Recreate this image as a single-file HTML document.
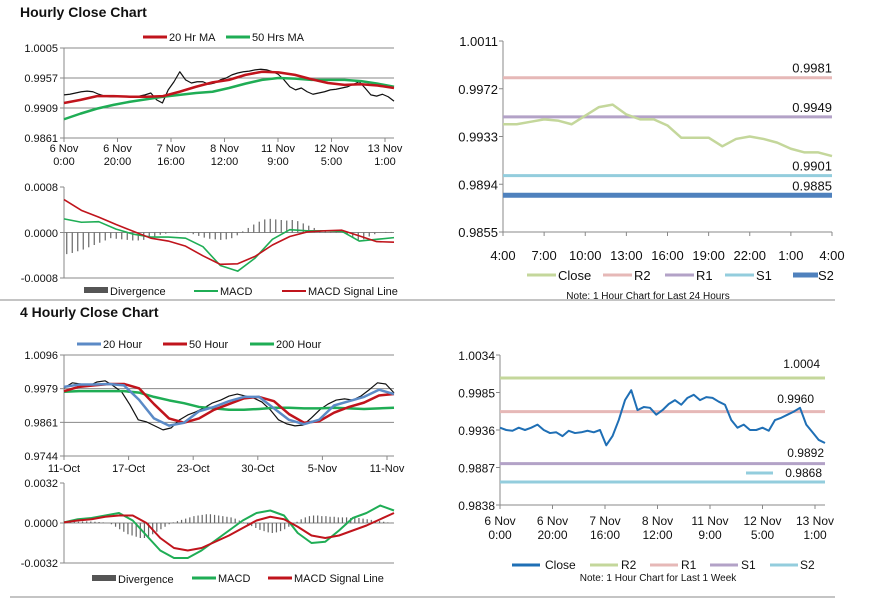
<!DOCTYPE html>
<html><head><meta charset="utf-8">
<style>
body{margin:0;background:#fff;font-family:"Liberation Sans",Arial,sans-serif;}
svg text{font-family:"Liberation Sans",Arial,sans-serif;font-size:11px;fill:#111;}
</style></head>
<body>
<svg id="s" width="873" height="601" viewBox="0 0 873 601" xmlns="http://www.w3.org/2000/svg">
<text x="20" y="17" style="font-size:14px;font-weight:bold">Hourly Close Chart</text>
<text x="20" y="317" style="font-size:14px;font-weight:bold">4 Hourly Close Chart</text>
<line x1="0" y1="300" x2="835" y2="300" stroke="#888"/>
<line x1="10" y1="597" x2="835" y2="597" stroke="#888"/>
</svg>
<script>
// ---- data ----
const hClose=[0.9930,0.9931,0.9933,0.9935,0.9936,0.9935,0.9931,0.9928,0.9927,0.9927,0.9928,0.9927,0.9928,0.9928,0.9930,0.9933,0.9922,0.9917,0.9938,0.9951,0.9967,0.9954,0.9949,0.9951,0.9951,0.9947,0.9949,0.9954,0.9957,0.9962,0.9965,0.9967,0.9968,0.9970,0.9971,0.9970,0.9967,0.9963,0.9954,0.9943,0.9938,0.9941,0.9935,0.9931,0.9933,0.9935,0.9938,0.9939,0.9941,0.9943,0.9947,0.9951,0.9941,0.9930,0.9928,0.9931,0.9927,0.9920];
const hMA20=[0.9917,0.9922,0.9928,0.9928,0.9927,0.9927,0.9928,0.9935,0.9943,0.9950,0.9954,0.9962,0.9967,0.9966,0.9962,0.9955,0.9949,0.9946,0.9947,0.9945,0.9941];
const hMA50=[0.9891,0.9900,0.9908,0.9914,0.9919,0.9923,0.9927,0.9930,0.9933,0.9935,0.9941,0.9948,0.9954,0.9957,0.9956,0.9954,0.9954,0.9954,0.9952,0.9948,0.9943];
const hMacd=[2.4,1.8,1.9,0.6,-0.3,-0.8,-0.8,-1.0,-2.5,-5.8,-6.8,-4.5,-1.2,0.5,0.3,0.3,0.2,-1.5,-1.2,-0.9];
const hSignal=[5.8,3.9,2.7,1.4,0.2,-1.0,-1.5,-2.4,-4.1,-5.6,-5.5,-4.2,-2.2,-0.7,0.1,0.3,0.4,-0.6,-1.6,-1.7];
const hDiv=[-3.8,-3.6,-3.3,-3.0,-2.6,-2.2,-1.8,-1.4,-1.0,-1.1,-1.2,-1.3,-1.4,-1.4,-1.3,-1.0,-0.7,-0.4,-0.2,0.0,0.1,0.0,-0.1,-0.3,-0.6,-0.9,-1.1,-1.2,-1.3,-1.2,-1.0,-0.5,0.2,0.8,1.4,1.9,2.3,2.4,2.3,2.2,2.1,2.2,2.0,1.6,1.2,0.8,0.4,0.2,0.1,0.1,0.0,-0.4,-0.9,-1.3,-1.2,-0.7,-0.3,0.0,0.1,0.1];
const hXLabels=[["6 Nov","0:00"],["6 Nov","20:00"],["7 Nov","16:00"],["8 Nov","12:00"],["11 Nov","9:00"],["12 Nov","5:00"],["13 Nov","1:00"]];
const hYTicks=["1.0005","0.9957","0.9909","0.9861"];
const dClose=[0.9943,0.9943,0.9945,0.9947,0.9946,0.9943,0.9950,0.9957,0.9959,0.9951,0.9947,0.9947,0.9942,0.9932,0.9932,0.9932,0.9925,0.9931,0.9933,0.9931,0.9928,0.9923,0.9920,0.9920,0.9917];
const dXLabels=["4:00","7:00","10:00","13:00","16:00","19:00","22:00","1:00","4:00"];
const dYTicks=["1.0011","0.9972","0.9933","0.9894","0.9855"];
const dLevels=[0.9981,0.9949,0.9901,0.9885];
const wClose=[0.9981,0.9999,0.9995,0.9988,1.0002,1.0006,0.9988,0.9967,0.9922,0.9870,0.9863,0.9849,0.9835,0.9842,0.9870,0.9887,0.9898,0.9912,0.9929,0.9939,0.9953,0.9960,0.9953,0.9946,0.9932,0.9905,0.9870,0.9856,0.9849,0.9852,0.9877,0.9905,0.9925,0.9939,0.9943,0.9939,0.9953,0.9975,0.9999,0.9995,0.9964];
const w20=[0.9985,0.9993,0.9993,0.9995,0.9990,0.9940,0.9875,0.9850,0.9860,0.9900,0.9915,0.9935,0.9950,0.9950,0.9910,0.9870,0.9855,0.9870,0.9920,0.9935,0.9950,0.9975,0.9960];
const w50=[0.9970,0.9985,0.9990,0.9995,0.9995,0.9980,0.9925,0.9875,0.9860,0.9875,0.9905,0.9925,0.9945,0.9950,0.9935,0.9890,0.9860,0.9865,0.9895,0.9915,0.9930,0.9955,0.9960];
const w200=[0.9968,0.9970,0.9970,0.9970,0.9970,0.9965,0.9950,0.9938,0.9928,0.9915,0.9910,0.9905,0.9905,0.9908,0.9912,0.9912,0.9910,0.9910,0.9912,0.9910,0.9908,0.9910,0.9912];
const wMacd=[0.5,3,4,6,8,2,-10,-22,-28,-28,-22,-14,-6,2,8,10,6,-8,-16,-15,-6,4,8,14,10];
const wSignal=[0.5,2,3,5,6,6,0,-12,-20,-22,-20,-15,-10,-4,2,5,3,-3,-10,-12,-10,-6,-2,3,8];
const wDiv=[0,0.5,1,1,1.2,1.3,1.2,1,0.8,0.5,0,-1,-3,-5,-7,-9,-10,-11,-12,-12,-11,-9,-7,-5,-3,-1,0.5,1.5,2.5,3.5,4.5,5.5,6,6.5,7,7,6.5,6,5.5,5,4.5,3.5,2,0.5,-1,-2.5,-4,-5.5,-6.5,-7.5,-8,-7.5,-6.5,-5,-3,-1,1,3,4.5,5.5,6,6,5.5,5.5,5,5,4.5,4.5,4.5,4,4,4,3.5,3,2.5,2,1.5,1,0.5,0.2];
const wXLabels=["11-Oct","17-Oct","23-Oct","30-Oct","5-Nov","11-Nov"];
const wYTicks=["1.0096","0.9979","0.9861","0.9744"];
const kClose=[0.9939,0.9936,0.9935,0.9939,0.9936,0.9939,0.9943,0.9936,0.9932,0.9933,0.9928,0.9935,0.9932,0.9933,0.9935,0.9933,0.9936,0.9916,0.9928,0.9949,0.9975,0.9988,0.9962,0.9966,0.9965,0.9956,0.9962,0.9970,0.9975,0.9969,0.9978,0.9982,0.9975,0.9979,0.9978,0.9973,0.9969,0.9949,0.9939,0.9943,0.9936,0.9936,0.9939,0.9935,0.9949,0.9952,0.9956,0.9960,0.9965,0.9943,0.9933,0.9923,0.9919];
const kXLabels=[["6 Nov","0:00"],["6 Nov","20:00"],["7 Nov","16:00"],["8 Nov","12:00"],["11 Nov","9:00"],["12 Nov","5:00"],["13 Nov","1:00"]];
const kYTicks=["1.0034","0.9985","0.9936","0.9887","0.9838"];
const kLevels=[1.0004,0.9960,0.9892,0.9868];

// ---- helpers ----
const S=document.getElementById('s');const NS='http://www.w3.org/2000/svg';
function mk(tag,attrs){const e=document.createElementNS(NS,tag);for(const k in attrs)e.setAttribute(k,attrs[k]);S.appendChild(e);return e;}
function scale(d0,d1,r0,r1){return v=>r0+(v-d0)/(d1-d0)*(r1-r0);}
function poly(vals,xs,ys,color,w,name){
  const pts=vals.map((v,i)=>xs(i/(vals.length-1))+','+ys(v)).join(' ');
  const e=mk('polyline',{points:pts,fill:'none',stroke:color,'stroke-width':w,'stroke-linejoin':'round'});
  
  
}
function txt(x,y,s,anchor,name,size){
  const e=mk('text',{x:x,y:y,'text-anchor':anchor||'start'});e.textContent=s;
  if(size)e.style.fontSize=size+'px';
  
  
  return e;
}
function ln(x1,y1,x2,y2,c,w,name){
  const e=mk('line',{x1:x1,y1:y1,x2:x2,y2:y2,stroke:c,'stroke-width':w});
  
  
}
function legend(x,y,c,w,label,name){
  ln(x,y,x+24,y,c,w,name+'-swatch');
  txt(x+26,y+4,label,'start',name);
}
function yaxis(x0,x1,ytop,ybot,labels,grid,name){
  const n=labels.length;
  labels.forEach((l,i)=>{const y=ytop+(ybot-ytop)*i/(n-1);
    if(grid&&i<n-1)ln(x0,y,x1,y,'#888',1,name+'-gridline');
    ln(x0-4,y,x0,y,'#888',1,name+'-tick');
    txt(x0-6,y+4,l,'end',name+'-label');});
  ln(x0,ytop,x0,ybot,'#888',1,name+'-axis');
  ln(x0,ybot,x1,ybot,'#888',1,name+'-xaxis');
}
function bars(vals,xs,ys,name){
  vals.forEach((v,i)=>{const x=xs((i+0.5)/vals.length);
    const e=mk('line',{x1:x,y1:ys(0),x2:x,y2:ys(v),stroke:'#666','stroke-width':1.2});
    
    });
}

// ---- Hourly close chart (top-left) ----
{const X0=64,X1=394,xs=t=>X0+t*(X1-X0),ys=scale(0.9861,1.0005,138,48);
yaxis(X0,X1,48,138,hYTicks,true,'hourly-price-y');
hXLabels.forEach((l,i)=>{const x=X0+i*(385-X0)/6;ln(x,138,x,142,'#888',1,'hourly-x-tick');txt(x,152,l[0],'middle','hourly-x-label');txt(x,165,l[1],'middle','hourly-x-label');});
poly(hClose,xs,ys,'#111',1.2,'hourly-close-line');
poly(hMA50,xs,ys,'#1fad55',2.5,'hourly-ma50-line');
poly(hMA20,xs,ys,'#c0141c',2.5,'hourly-ma20-line');
legend(143,37,'#c0141c',3,'20 Hr MA','legend-20hr-ma');
legend(226,37,'#1fad55',3,'50 Hrs MA','legend-50hr-ma');
const ym=scale(-8,8,278,187);
yaxis(X0,X1,187,278,['0.0008','','-0.0008'],false,'hourly-macd-y');
ln(X0,ym(0),X1,ym(0),'#888',1,'hourly-macd-zero');
txt(58,237,'0.0000','end','hourly-macd-zero-label');
bars(hDiv,xs,ym,'hourly-divergence-bar');
poly(hMacd,xs,ym,'#1fad55',1.6,'hourly-macd-line');
poly(hSignal,xs,ym,'#c0141c',1.6,'hourly-signal-line');
mk('rect',{x:84,y:287,width:24,height:6,fill:'#555'});
txt(110,295,'Divergence','start','legend-hourly-divergence');
legend(194,291,'#1fad55',2,'MACD','legend-hourly-macd');
legend(282,291,'#c0141c',2,'MACD Signal Line','legend-hourly-signal');}

// ---- Daily 24h chart (top-right) ----
{const X0=503,X1=832,xs=t=>X0+t*(X1-X0),ys=scale(0.9855,1.0011,232,41);
dYTicks.forEach((l,i)=>{const y=41+i*(191/4);ln(X0-4,y,X0,y,'#888',1,'daily-y-tick');txt(X0-5,y+5,l,'end','daily-y-label',13);});
ln(X0,41,X0,232,'#888',1,'daily-y-axis');ln(X0,232,X1,232,'#888',1,'daily-x-axis');
dXLabels.forEach((l,i)=>{const x=X0+i*(X1-X0)/8;ln(x,232,x,236,'#888',1,'daily-x-tick');txt(x,260,l,'middle','daily-x-label',13);});
const cols=['#e6b8b7','#b3a2c7','#93cddd','#4f81bd'],wid=[3,3,3,5];
const lnames=['r2','r1','s1','s2'];
dLevels.forEach((v,i)=>{ln(X0,ys(v),X1,ys(v),cols[i],wid[i],'daily-'+lnames[i]+'-line');txt(X1,ys(v)-5,v.toFixed(4),'end','daily-'+lnames[i]+'-label',13);});
poly(dClose,xs,ys,'#c4d79b',2.5,'daily-close-line');
ln(527,275,556,275,'#c4d79b',3,'legend-daily-close-sw');txt(558,280,'Close','start','legend-daily-close',13);
ln(603,275,632,275,cols[0],3,'legend-daily-r2-sw');txt(634,280,'R2','start','legend-daily-r2',13);
ln(665,275,694,275,cols[1],3,'legend-daily-r1-sw');txt(696,280,'R1','start','legend-daily-r1',13);
ln(725,275,754,275,cols[2],3,'legend-daily-s1-sw');txt(756,280,'S1','start','legend-daily-s1',13);
ln(793,275,818,275,cols[3],5,'legend-daily-s2-sw');txt(818,280,'S2','start','legend-daily-s2',13);
txt(648,299,'Note: 1 Hour Chart for Last 24 Hours','middle','daily-note',10);}

// ---- 4 hourly (bottom-left) ----
{const X0=64,X1=394,xs=t=>X0+t*(X1-X0),ys=scale(0.9744,1.0096,456,355);
yaxis(X0,X1,355,456,wYTicks,true,'4h-price-y');
wXLabels.forEach((l,i)=>{const x=X0+i*(387-X0)/5;ln(x,456,x,460,'#888',1,'4h-x-tick');txt(x,472,l,'middle','4h-x-label');});
poly(wClose,xs,ys,'#111',1.2,'4h-close-line');
poly(w200,xs,ys,'#1fad55',2.5,'4h-200-line');
poly(w50,xs,ys,'#c0141c',2.5,'4h-50-line');
poly(w20,xs,ys,'#5b8ac6',2.5,'4h-20-line');
legend(77,344,'#5b8ac6',3,'20 Hour','legend-20-hour');
legend(163,344,'#c0141c',3,'50 Hour','legend-50-hour');
legend(250,344,'#1fad55',3,'200 Hour','legend-200-hour');
const ym=scale(-32,32,563,483);
yaxis(X0,X1,483,563,['0.0032','','-0.0032'],false,'4h-macd-y');
ln(X0,ym(0),X1,ym(0),'#888',1,'4h-macd-zero');
txt(58,527,'0.0000','end','4h-macd-zero-label');
bars(wDiv,xs,ym,'4h-divergence-bar');
poly(wMacd,xs,ym,'#1fad55',2,'4h-macd-line');
poly(wSignal,xs,ym,'#c0141c',2,'4h-signal-line');
mk('rect',{x:92,y:575,width:24,height:6,fill:'#555'});
txt(118,583,'Divergence','start','legend-4h-divergence');
legend(192,578,'#1fad55',3,'MACD','legend-4h-macd');
legend(268,578,'#c0141c',3,'MACD Signal Line','legend-4h-signal');}

// ---- weekly 1h (bottom-right) ----
{const X0=500,X1=825,xs=t=>X0+t*(X1-X0),ys=scale(0.9838,1.0034,505,355);
kYTicks.forEach((l,i)=>{const y=355+i*150/4;ln(X0-4,y,X0,y,'#888',1,'weekly-y-tick');txt(X0-5,y+5,l,'end','weekly-y-label',12);});
ln(X0,355,X0,505,'#888',1,'weekly-y-axis');ln(X0,505,X1,505,'#888',1,'weekly-x-axis');
kXLabels.forEach((l,i)=>{const x=X0+i*(815-X0)/6;ln(x,505,x,509,'#888',1,'weekly-x-tick');txt(x,525,l[0],'middle','weekly-x-label',12);txt(x,539,l[1],'middle','weekly-x-label',12);});
const cols=['#c4d79b','#e6b8b7','#b3a2c7','#93cddd'];const lnames=['r2','r1','s1','s2'];
kLevels.forEach((v,i)=>{ln(X0,ys(v),X1,ys(v),cols[i],3,'weekly-'+lnames[i]+'-line');});
txt(820,368,kLevels[0].toFixed(4),'end','weekly-r2-label',12);
txt(814,403,kLevels[1].toFixed(4),'end','weekly-r1-label',12);
txt(824,457,kLevels[2].toFixed(4),'end','weekly-s1-label',12);
ln(746,473,773,473,cols[3],3,'weekly-s2-marker');
txt(822,477,kLevels[3].toFixed(4),'end','weekly-s2-label',12);
poly(kClose,xs,ys,'#1f6fb5',2,'weekly-close-line');
ln(512,565,540,565,'#1f6fb5',3,'legend-weekly-close-sw');txt(545,569,'Close','start','legend-weekly-close',12);
ln(590,565,618,565,cols[0],3,'legend-weekly-r2-sw');txt(621,569,'R2','start','legend-weekly-r2',12);
ln(650,565,678,565,cols[1],3,'legend-weekly-r1-sw');txt(681,569,'R1','start','legend-weekly-r1',12);
ln(710,565,738,565,cols[2],3,'legend-weekly-s1-sw');txt(741,569,'S1','start','legend-weekly-s1',12);
ln(770,565,798,565,cols[3],3,'legend-weekly-s2-sw');txt(800,569,'S2','start','legend-weekly-s2',12);
txt(658,581,'Note: 1 Hour Chart for Last 1 Week','middle','weekly-note',10);}
</script>
</body></html>
